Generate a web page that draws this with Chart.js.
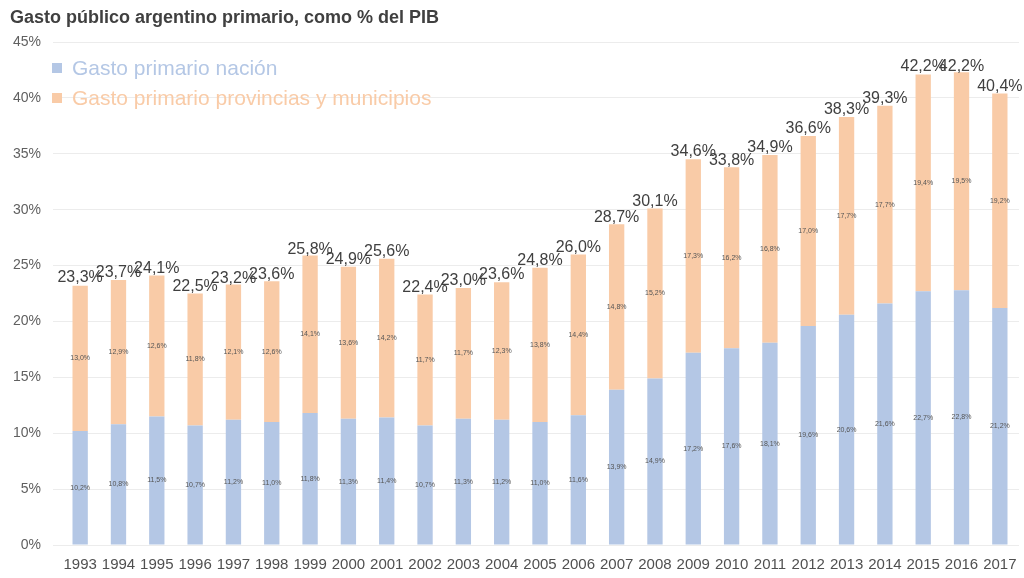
<html lang="es">
<head>
  <meta charset="UTF-8">
  <title>Gasto público argentino primario</title>
  <style>
    body { margin: 0; background: #fff; font-family: "Liberation Sans", Arial, sans-serif; }
    #wrap { position: relative; width: 1024px; height: 578px; }
    #title { position: absolute; left: 10px; top: 7px; font-size: 18px; font-weight: bold; color: #404040; }
    #legend { position: absolute; left: 52px; top: 53px; font-size: 21px; line-height: 30px; }
    #legend span.box { display: inline-block; width: 10px; height: 10px; margin-right: 10px; vertical-align: 2px; }
  </style>
  <script src="https://cdn.jsdelivr.net/npm/chart.js"></script>
</head>
<body>
  <div id="wrap">
    <canvas id="chart" width="1024" height="578"></canvas>
    <div id="title">Gasto público argentino primario, como % del PIB</div>
    <div id="legend"></div>
  </div>
  <script>
    const years = ['1993','1994','1995','1996','1997','1998','1999','2000','2001','2002','2003','2004','2005',
                   '2006','2007','2008','2009','2010','2011','2012','2013','2014','2015','2016','2017'];
    const nacion = [10.2,10.8,11.5,10.7,11.2,11.0,11.8,11.3,11.4,10.7,11.3,11.2,11.0,
                    11.6,13.9,14.9,17.2,17.6,18.1,19.6,20.6,21.6,22.7,22.8,21.2];
    const provincias = [13.0,12.9,12.6,11.8,12.1,12.6,14.1,13.6,14.2,11.7,11.7,12.3,13.8,
                        14.4,14.8,15.2,17.3,16.2,16.8,17.0,17.7,17.7,19.4,19.5,19.2];
    const totals = [23.3,23.7,24.1,22.5,23.2,23.6,25.8,24.9,25.6,22.4,23.0,23.6,24.8,
                    26.0,28.7,30.1,34.6,33.8,34.9,36.6,38.3,39.3,42.2,42.2,40.4];
    const yTicks = [0,5,10,15,20,25,30,35,40,45];

    const blue = '#b4c7e5';
    const orange = '#f9cba7';
    const fmt = v => v.toFixed(1).replace('.', ',') + '%';

    // draws the small inner values and the totals above each column
    const labelsPlugin = {
      id: 'barLabels',
      afterDatasetsDraw(chart) {
        const ctx = chart.ctx;
        ctx.save();
        ctx.textAlign = 'center';
        ctx.textBaseline = 'middle';
        ctx.fillStyle = '#555';
        ctx.font = '7px "Liberation Sans", sans-serif';
        chart.data.datasets.forEach((ds, i) => {
          chart.getDatasetMeta(i).data.forEach((bar, j) => {
            ctx.fillText(fmt(ds.data[j]), bar.x, (bar.y + bar.base) / 2);
          });
        });
        const top = chart.getDatasetMeta(1).data;
        ctx.fillStyle = '#404040';
        ctx.textBaseline = 'bottom';
        ctx.font = '16px "Liberation Sans", sans-serif';
        top.forEach((bar, j) => {
          const y = chart.scales.y.getPixelForValue(totals[j]);
          ctx.fillText(fmt(totals[j]), bar.x, y + 1);
        });
        ctx.restore();
      }
    };

    const chart = new Chart(document.getElementById('chart'), {
      type: 'bar',
      data: {
        labels: years,
        datasets: [
          { label: 'Gasto primario nación', data: nacion, backgroundColor: blue, categoryPercentage: 1, barPercentage: 0.4 },
          { label: 'Gasto primario provincias y municipios', data: provincias, backgroundColor: orange, categoryPercentage: 1, barPercentage: 0.4 }
        ]
      },
      options: {
        responsive: false,
        animation: false,
        layout: { padding: { top: 42, right: 5, bottom: 1, left: 0 } },
        plugins: { legend: { display: false }, tooltip: { enabled: false } },
        scales: {
          x: {
            stacked: true,
            grid: { display: false },
            border: { display: false },
            ticks: { color: '#505050', font: { size: 15 }, maxRotation: 0, autoSkip: false }
          },
          y: {
            stacked: true,
            min: 0, max: 45,
            afterBuildTicks: s => { s.ticks = yTicks.map(v => ({ value: v })); },
            afterFit: s => { s.width = 61; },
            grid: { color: '#ececec' },
            border: { display: false },
            ticks: { color: '#606060', padding: 12, font: { size: 14 }, callback: v => v + '%' }
          }
        }
      },
      plugins: [labelsPlugin]
    });

    // legend overlaid on the plot area
    const legend = document.getElementById('legend');
    chart.data.datasets.forEach(ds => {
      const row = document.createElement('div');
      row.style.color = ds.backgroundColor;
      row.innerHTML = '<span class="box" style="background:' + ds.backgroundColor + '"></span>' + ds.label;
      legend.appendChild(row);
    });
  </script>
</body>
</html>
